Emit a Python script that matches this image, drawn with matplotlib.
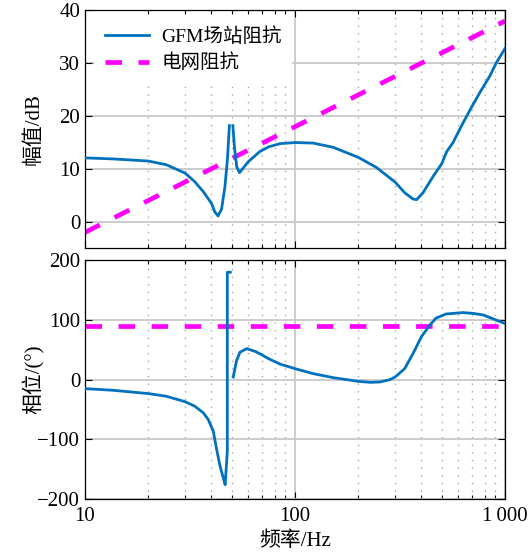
import numpy as np
import matplotlib
matplotlib.use("Agg")
import matplotlib.pyplot as plt
from matplotlib.ticker import FixedLocator, LogLocator, NullFormatter

plt.rcParams['font.family'] = ['Liberation Serif', 'Noto Sans CJK SC']
plt.rcParams['axes.unicode_minus'] = True

# GFM station impedance - magnitude (dB)
f_mag = [10, 13.6, 20, 24.4, 30, 33.3, 36.6, 40, 41.5, 43.0, 44.7, 46.4,
         47.7, 48.7, 50, 50.6, 51.5, 52.8, 54.4, 57, 60, 68, 75, 85, 100,
         122, 152, 200, 244, 300, 333, 365, 380, 407, 455, 500, 528, 566,
         625, 700, 760, 850, 906, 1000]
mag = [12.1, 11.9, 11.5, 10.8, 9.2, 7.6, 5.7, 3.5, 1.9, 1.1, 2.4, 6.7,
       12.0, 18.2, np.nan, 18.2, 14.0, 10.4, 9.3, 10.3, 11.4, 13.3, 14.2,
       14.8, 15.0, 14.9, 14.1, 12.2, 10.3, 7.5, 5.5, 4.3, 4.2, 5.5, 8.6,
       11.0, 13.3, 15.0, 18.4, 22.0, 24.5, 27.7, 30.0, 32.8]

# grid impedance - magnitude (dB)
f_grid = [10, 100, 1000]
mag_grid = [-2.0, 18.0, 38.0]

# GFM station impedance - phase (deg)
f_ph = [10, 13.6, 20, 24.4, 30, 33.3, 36.6, 38.6, 40.8, 42.2, 43.9, 45.5,
        46.5, 47.6, 47.6, 49.2, 50, 50.8, 52.7, 54.7, 58.9, 65, 70, 75, 85,
        100, 122, 152, 200, 228, 254, 283, 300, 333, 365, 400, 439, 469,
        523, 631, 706, 788, 906, 1000]
ph = [-15, -17.8, -23.3, -27.8, -37, -44.4, -55.6, -66.7, -86, -114, -144,
      -164, -176, -120, 180, 180, np.nan, 4.5, 32, 46, 52, 47, 41, 35, 26,
      18.5, 10.1, 3.4, -2.8, -4.5, -3.9, 0, 4.5, 18.5, 43.8, 72, 91.6, 103,
      110, 112.4, 111, 108.4, 100, 94]

# grid impedance - phase (deg)
f_ph_grid = [10, 1000]
ph_grid = [90, 90]

blue = '#0072BD'
magenta = '#FF00FF'

fig = plt.figure(figsize=(5.32, 5.58), dpi=100)
ax1 = fig.add_axes([0.1598, 0.5552, 0.7894, 0.426])
ax2 = fig.add_axes([0.1598, 0.1057, 0.7894, 0.4278])

dash = (0, (3.5, 3.5))
ax1.plot(f_mag, mag, color=blue, lw=2.0, label='GFM场站阻抗', zorder=3)
ax1.plot(f_grid, mag_grid, color=magenta, lw=3.4, ls=dash,
         label='电网阻抗', zorder=2)
ax2.plot(f_ph, ph, color=blue, lw=2.0, zorder=3)
ax2.plot(f_ph_grid, ph_grid, color=magenta, lw=3.4, ls=dash, zorder=2)

for ax in (ax1, ax2):
    ax.set_xscale('log')
    ax.set_xlim(10, 1000)
    ax.xaxis.set_minor_locator(LogLocator(base=10, subs=np.arange(2, 10)))
    ax.xaxis.set_minor_formatter(NullFormatter())
    ax.grid(True, which='major', color='#c8c8c8', lw=1.3, ls='-')
    ax.grid(True, which='minor', axis='x', color='#a8a8a8', lw=1.0,
            ls=(0, (1, 4.5)))
    ax.tick_params(which='both', direction='in', top=True, right=True,
                   labelsize=15, width=0.8)
    ax.tick_params(which='major', length=5)
    ax.tick_params(which='minor', length=3)
    ax.tick_params(axis='x', pad=6)
    for s in ax.spines.values():
        s.set_linewidth(0.9)
    ax.set_axisbelow(True)

ax1.set_ylim(-5, 40)
ax1.yaxis.set_major_locator(FixedLocator([0, 10, 20, 30, 40]))
ax1.set_xticklabels([])
ax1.set_ylabel('幅值/dB', fontsize=15)

ax2.set_ylim(-200, 200)
ax2.yaxis.set_major_locator(FixedLocator([-200, -100, 0, 100, 200]))
ax2.set_xticks([10, 100, 1000])
ax2.set_xticklabels(['10', '100', '1\u2009000'])
ax2.set_ylabel('相位/(°)', fontsize=15)
ax2.set_xlabel('频率/Hz', fontsize=15)

leg = ax1.legend(loc='upper left', bbox_to_anchor=(0.0245, 0.971),
                 fontsize=14, handlelength=2.27, handletextpad=0.62,
                 frameon=True, fancybox=False, borderaxespad=0,
                 borderpad=0.5, labelspacing=0.4)
leg.get_frame().set_edgecolor('white')
leg.get_frame().set_alpha(1.0)

ax1.yaxis.set_label_coords(-0.099, 0.5)
ax2.yaxis.set_label_coords(-0.099, 0.5)

fig.savefig('out.png', dpi=100)
